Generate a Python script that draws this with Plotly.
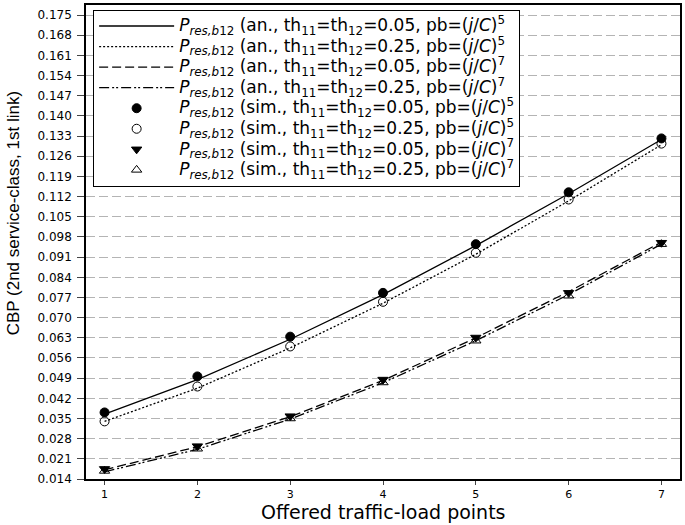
import plotly.graph_objects as go

pontos = [1, 2, 3, 4, 5, 6, 7]

# analytical curves
an_005_p5 = [0.0365, 0.0485, 0.0625, 0.0780, 0.0950, 0.1130, 0.1318]
an_025_p5 = [0.0340, 0.0455, 0.0595, 0.0750, 0.0920, 0.1105, 0.1300]
an_005_p7 = [0.0172, 0.0252, 0.0356, 0.0482, 0.0630, 0.0790, 0.0962]
an_025_p7 = [0.0165, 0.0243, 0.0348, 0.0474, 0.0620, 0.0780, 0.0955]

# simulation points
sim_005_p5 = [0.0371, 0.0496, 0.0634, 0.0786, 0.0955, 0.1135, 0.1322]
sim_025_p5 = [0.0340, 0.0461, 0.0600, 0.0755, 0.0925, 0.1110, 0.1304]
sim_005_p7 = [0.0175, 0.0254, 0.0358, 0.0485, 0.0631, 0.0786, 0.0960]
sim_025_p7 = [0.0168, 0.0245, 0.0350, 0.0475, 0.0620, 0.0776, 0.0955]

y_ticks = [round(0.014 + 0.007 * i, 3) for i in range(24)]


def rotulo(tipo, th, pot):
    # texto maior que a fonte da legenda: linhas ficam baixas, texto largo como no original
    return ("<span style='font-size:17px'><i>P</i><sub><i>res,b</i>12</sub> (" + tipo
            + ", th<sub>11</sub>=th<sub>12</sub>=" + th
            + ", pb=(<i>j</i>/<i>C</i>)<sup>" + pot + "</sup></span>")


fig = go.Figure()

linhas = [
    (an_005_p5, rotulo("an.", "0.05", "5"), "solid"),
    (an_025_p5, rotulo("an.", "0.25", "5"), "2px,2px"),
    (an_005_p7, rotulo("an.", "0.05", "7"), "9px,4px"),
    (an_025_p7, rotulo("an.", "0.25", "7"), "10px,3px,2px,2px,2px,3px"),
]
for vals, nome, dash in linhas:
    fig.add_trace(go.Scatter(x=pontos, y=vals, mode="lines", name=nome,
                             line=dict(color="black", width=1.3, dash=dash)))

marcas = [
    (sim_005_p5, rotulo("sim.", "0.05", "5"), "circle"),
    (sim_025_p5, rotulo("sim.", "0.25", "5"), "circle-open"),
    (sim_005_p7, rotulo("sim.", "0.05", "7"), "triangle-down"),
    (sim_025_p7, rotulo("sim.", "0.25", "7"), "triangle-up-open"),
]
for vals, nome, simb in marcas:
    fig.add_trace(go.Scatter(x=pontos, y=vals, mode="markers", name=nome,
                             marker=dict(symbol=simb, size=9, color="black",
                                         line=dict(color="black", width=1))))

fig.update_layout(
    width=685, height=525,
    margin=dict(l=86, r=3, t=3, b=46),
    paper_bgcolor="white", plot_bgcolor="white",
    font=dict(family="DejaVu Sans, Arial, sans-serif", color="black"),
    showlegend=True,
    legend=dict(x=0.012, y=0.99, xanchor="left", yanchor="top",
                bgcolor="white", bordercolor="black", borderwidth=1,
                font=dict(size=13.5), tracegroupgap=0, itemwidth=75),
)
fig.update_xaxes(
    range=[0.8, 7.2], tickvals=pontos, ticks="outside", ticklen=4,
    tickfont=dict(size=11), showgrid=False, zeroline=False,
    showline=True, linecolor="black", linewidth=1.5, mirror=True,
)
fig.update_yaxes(
    range=[0.014, 0.1785], tickvals=y_ticks, tickformat=".3f",
    ticks="outside", ticklen=7, ticklabelstandoff=3, tickfont=dict(size=12),
    showgrid=True, gridcolor="#b4b4b4", griddash="9px,4px", gridwidth=1,
    zeroline=False, showline=True, linecolor="black", linewidth=1.5, mirror=True,
)

# títulos dos eixos como anotações, posicionados como no original
fig.add_annotation(
    text="Offered traffic-load points",
    xref="paper", yref="paper", x=0.5, y=-0.0693, showarrow=False,
    xanchor="center", yanchor="middle", font=dict(size=19),
)
fig.add_annotation(
    text="CBP (2nd service-class, 1st link)", textangle=-90,
    xref="paper", yref="paper", x=-0.1225, y=0.561, showarrow=False,
    xanchor="center", yanchor="middle",
    font=dict(size=17, family="Liberation Sans, Arial, sans-serif"),
)

# the page body has a default 8px margin; drop it so the figure fills the window
fig.write_html("out.html", config={"displayModeBar": False},
               post_script="document.body.style.margin='0';")
